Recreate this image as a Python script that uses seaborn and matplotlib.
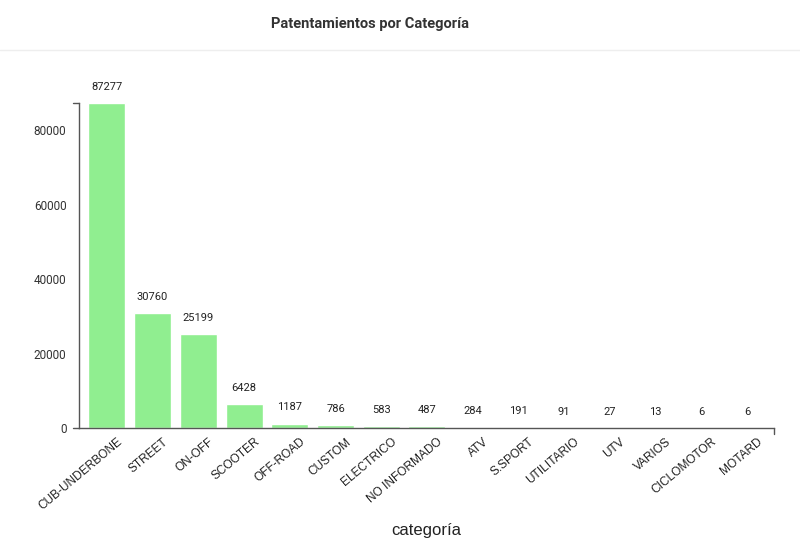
import numpy as np
import pandas as pd
import seaborn as sns
import matplotlib.pyplot as plt
import matplotlib.transforms as mtransforms
from matplotlib.lines import Line2D

categorias = ["CUB-UNDERBONE", "STREET", "ON-OFF", "SCOOTER", "OFF-ROAD", "CUSTOM",
              "ELECTRICO", "NO INFORMADO", "ATV", "S.SPORT", "UTILITARIO", "UTV",
              "VARIOS", "CICLOMOTOR", "MOTARD"]
patentamientos = [87277, 30760, 25199, 6428, 1187, 786, 583, 487, 284, 191, 91, 27, 13, 6, 6]
y_ticks = [0, 20000, 40000, 60000, 80000]

df = pd.DataFrame({"categoría": categorias, "patentamientos": patentamientos})

sns.set_style("white")
plt.rcParams["font.family"] = ["Roboto", "DejaVu Sans"]

fig = plt.figure(figsize=(8, 5.59), dpi=100)
ax = fig.add_axes([0.09875, 0.2343, 0.86875, 0.5814])

sns.barplot(data=df, x="categoría", y="patentamientos", color="#90EE90",
            saturation=1, width=0.81, ax=ax)

ax.set_xlim(-0.61, len(categorias) - 0.41)
ax.set_ylim(0, max(patentamientos))
ax.set_yticks(y_ticks)
ax.set_yticklabels([str(t) for t in y_ticks], fontsize=8.5, color="#333333")
ax.set_xticks(range(len(categorias)))
ax.set_xticklabels(categorias, rotation=40, ha="right", rotation_mode="anchor",
                   fontsize=8.6, family=["Liberation Sans", "DejaVu Sans"], color="#222222")
ax.tick_params(axis="both", length=6, width=1, color="#555555", direction="out", pad=3)
ax.tick_params(axis="x", pad=1)

# shift rotated labels so they end just right of the tick
shift = mtransforms.ScaledTranslation(10 / 100, 2 / 100, fig.dpi_scale_trans)
for lab in ax.get_xticklabels():
    lab.set_transform(lab.get_transform() + shift)

for s in ["top", "right"]:
    ax.spines[s].set_visible(False)
for s in ["left", "bottom"]:
    ax.spines[s].set_color("#555555")
    ax.spines[s].set_linewidth(1)

# d3-style outer ticks at the domain ends
for xy in [((0, 0), (-6 / 694.0, 0)), ((0, 1), (-6 / 694.0, 1)), ((1, 0), (1, -6 / 325.0))]:
    ax.add_line(Line2D([xy[0][0], xy[1][0]], [xy[0][1], xy[1][1]], transform=ax.transAxes,
                       color="#555555", lw=1, clip_on=False))

for p, v in zip(ax.patches, patentamientos):
    ax.annotate(str(v), (p.get_x() + p.get_width() / 2, v), xytext=(0, 8),
                textcoords="offset points", ha="center", va="bottom", fontsize=8,
                color="#222222")

ax.set_ylabel("")
ax.set_xlabel("categoría", fontsize=12, color="#222222",
              family=["Liberation Sans", "DejaVu Sans"], labelpad=8)

fig.text(0.4625, 0.957, "Patentamientos por Categoría", ha="center", va="center",
         fontsize=10.5, fontweight="bold", color="#333333")
fig.add_artist(Line2D([0, 1], [0.91, 0.91], transform=fig.transFigure,
                      color="#eeeeee", lw=1))

fig.savefig("out.png", dpi=100)
